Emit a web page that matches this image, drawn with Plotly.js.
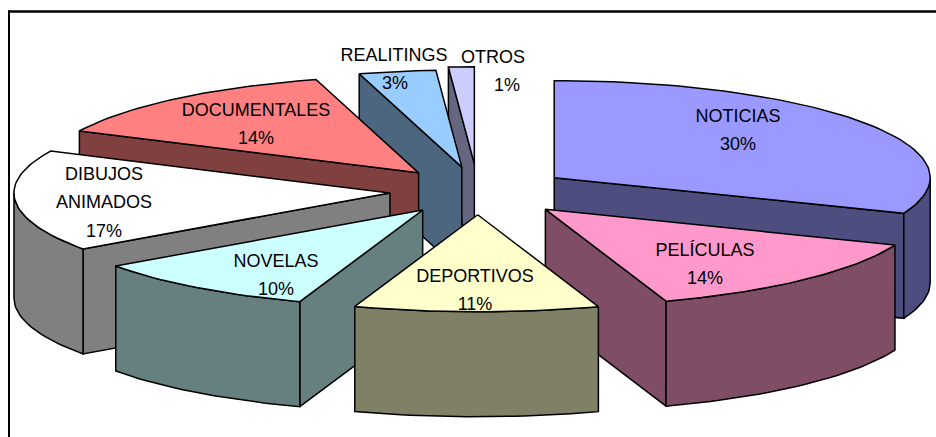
<!DOCTYPE html>
<html>
<head>
<meta charset="utf-8">
<script src="https://cdn.plot.ly/plotly-3.0.1.min.js"></script>
<style>html,body{margin:0;padding:0;background:#fff}#chart{width:936px;height:437px}</style>
</head>
<body>
<div id="chart"></div>
<script>
// --- data ---
var categories = ["NOTICIAS","PELÍCULAS","DEPORTIVOS","NOVELAS","DIBUJOS ANIMADOS","DOCUMENTALES","REALITINGS","OTROS"];
var shares = [31.0, 13.8, 10.5, 9.9, 16.9, 13.5, 3.3, 1.1];
var percentLabels = ["30%","14%","11%","10%","17%","14%","3%","1%"];
var topColors = ["#9999FF","#FF99CC","#FFFFCC","#CCFFFF","#FFFFFF","#FF8080","#99CCFF","#CCCCFF"];
var wallColors = ["#4D4D80","#804D66","#808066","#668080","#808080","#804040","#4D6680","#666680"];
var explodeBySlice = [0.245, 0.26, 0.245, 0.245, 0.235, 0.245, 0.25, 0.28];
var labelLines = [["NOTICIAS"],["PELÍCULAS"],["DEPORTIVOS"],["NOVELAS"],["DIBUJOS","ANIMADOS"],["DOCUMENTALES"],["REALITINGS"],["OTROS"]];
var labelX = [738, 705, 475, 276, 104, 256, 394, 493];
var labelY = [117, 251, 277, 262, 175, 111, 56, 58];
var pctX   = [738, 705, 475, 276, 104, 256, 395, 507];
var drawOrder = [7, 6, 5, 4, 0, 1, 3, 2];

// --- projection of the pie ---
var centerX = 478, centerY = 191, radiusX = 376, radiusY = 97, depth = 105;
var rowHeight = 28.5;
var RAD = Math.PI / 180;

var total = shares.reduce(function (a, b) { return a + b; }, 0);
var slices = [], acc = 0;
shares.forEach(function (v, i) {
  var a0 = acc / total * 360; acc += v;
  var a1 = acc / total * 360, mid = (a0 + a1) / 2;
  slices.push({
    i: i, a0: a0, a1: a1,
    ax: centerX + explodeBySlice[i] * radiusX * Math.sin(mid * RAD),
    ay: centerY - explodeBySlice[i] * radiusY * Math.cos(mid * RAD)
  });
});

function rim(s, a) {
  return [s.ax + radiusX * Math.sin(a * RAD), s.ay - radiusY * Math.cos(a * RAD)];
}
function arcPts(s, from, to) {
  var pts = [], n = Math.max(2, Math.ceil((to - from) / 1.5));
  for (var k = 0; k <= n; k++) pts.push(rim(s, from + (to - from) * k / n));
  return pts;
}
function poly(pts, fill) {
  var xs = pts.map(function (p) { return p[0]; });
  var ys = pts.map(function (p) { return p[1]; });
  xs.push(xs[0]); ys.push(ys[0]);
  return { type: "scatter", mode: "lines", x: xs, y: ys, fill: "toself", fillcolor: fill,
    line: { color: "#000000", width: 1.5 }, hoverinfo: "skip", showlegend: false };
}
function radialWall(s, a, fill) {
  var r = rim(s, a);
  return poly([[s.ax, s.ay], r, [r[0], r[1] + depth], [s.ax, s.ay + depth]], fill);
}

var traces = [];
drawOrder.forEach(function (idx) {
  var s = slices[idx], wall = wallColors[idx];
  if (Math.sin(s.a0 * RAD) < 0) traces.push(radialWall(s, s.a0, wall));
  if (Math.sin(s.a1 * RAD) > 0 && s.a1 < 360) traces.push(radialWall(s, s.a1, wall));
  var from = Math.max(s.a0, 90), to = Math.min(s.a1, 270);
  if (to > from) {
    var topArc = arcPts(s, from, to);
    var bottomArc = topArc.map(function (p) { return [p[0], p[1] + depth]; }).reverse();
    traces.push(poly(topArc.concat(bottomArc), wall));
  }
  traces.push(poly([[s.ax, s.ay]].concat(arcPts(s, s.a0, s.a1)), topColors[idx]));
});

// --- labels ---
var tx = [], ty = [], tt = [];
categories.forEach(function (c, i) {
  var lines = labelLines[i];
  lines.forEach(function (line, k) {
    tx.push(labelX[i]); ty.push(labelY[i] + k * rowHeight); tt.push(line);
  });
  tx.push(pctX[i]); ty.push(labelY[i] + lines.length * rowHeight);
  tt.push(percentLabels[i]);
});
traces.push({ type: "scatter", mode: "text", x: tx, y: ty, text: tt, textposition: "middle center",
  textfont: { family: "Liberation Sans, Arial, sans-serif", size: 18, color: "#000000" },
  hoverinfo: "skip", showlegend: false });

var layout = {
  width: 936, height: 437,
  margin: { l: 0, r: 0, t: 0, b: 0 },
  paper_bgcolor: "#FFFFFF", plot_bgcolor: "#FFFFFF",
  showlegend: false,
  xaxis: { range: [0, 936], visible: false, fixedrange: true },
  yaxis: { range: [437, 0], visible: false, fixedrange: true },
  shapes: [
    { type: "line", xref: "x", yref: "y", x0: 8, x1: 936, y0: 11.5, y1: 11.5, line: { color: "#000000", width: 2.5 }, layer: "below" },
    { type: "line", xref: "x", yref: "y", x0: 9, x1: 9, y0: 10.5, y1: 437, line: { color: "#000000", width: 2 }, layer: "below" }
  ]
};
Plotly.newPlot("chart", traces, layout, { displayModeBar: false, staticPlot: true });
</script>
</body>
</html>
